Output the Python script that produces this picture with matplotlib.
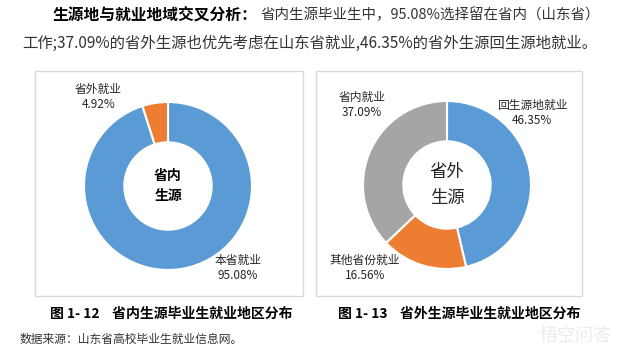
import matplotlib
matplotlib.use("Agg")
import matplotlib.pyplot as plt
from matplotlib.patches import Rectangle

plt.rcParams['font.family'] = ['Noto Sans CJK SC', 'DejaVu Sans']

W, H = 622, 355

# data
left_labels = ["本省就业", "省外就业"]
left_values = [95.08, 4.92]
left_colors = ["#5b9bd5", "#ed7d31"]
right_labels = ["回生源地就业", "其他省份就业", "省内就业"]
right_values = [46.35, 16.56, 37.09]
right_colors = ["#5b9bd5", "#ed7d31", "#a5a5a5"]

title_bold = "生源地与就业地域交叉分析："
title_rest = "省内生源毕业生中，95.08%选择留在省内（山东省）"
title_line2 = "工作;37.09%的省外生源也优先考虑在山东省就业,46.35%的省外生源回生源地就业。"
captions = ["图 1- 12    省内生源毕业生就业地区分布", "图 1- 13    省外生源毕业生就业地区分布"]
source = "数据来源：山东省高校毕业生就业信息网。"


def fx(x):
    return x / W


def fy(y):
    return 1 - y / H


fig = plt.figure(figsize=(W / 100, H / 100), dpi=100)
renderer = fig.canvas.get_renderer()


def fit_text(x0, x1, y, s, size, **kw):
    # shrink the font so the line spans x0..x1 pixels
    t = fig.text(fx(x0), fy(y), s, fontsize=size, ha="left", va="center", **kw)
    w = t.get_window_extent(renderer).width
    t.set_fontsize(size * (x1 - x0) / w)
    return t


# panel frames
for x0, x1 in [(35, 303), (316, 582)]:
    fig.patches.append(Rectangle((fx(x0), fy(296)), fx(x1) - fx(x0), fy(71) - fy(296),
                                 transform=fig.transFigure, fill=False,
                                 edgecolor="#d9d9d9", lw=1.0))


def donut(cx, cy, r, values, colors, labels, label_pos, center, center_kw):
    ax = fig.add_axes([fx(cx - r), fy(cy + r), 2 * r / W, 2 * r / H])
    ax.pie(values, colors=colors, startangle=90, counterclock=False, radius=1,
           wedgeprops=dict(width=0.48, edgecolor="white", linewidth=1.5))
    ax.set_xlim(-1, 1)
    ax.set_ylim(-1, 1)
    ax.set_aspect("equal")
    ax.axis("off")
    for lab, v, (tx, ty) in zip(labels, values, label_pos):
        ax.text(tx, ty, f"{lab}\n{v:.2f}%", ha="center", va="center",
                fontsize=8.5, color="#262626", linespacing=1.2, clip_on=False)
    ax.text(0, 0, center, ha="center", va="center", linespacing=1.5, **center_kw)


donut(168, 186, 84, left_values, left_colors, left_labels,
      [(0.83, -0.98), (-0.83, 1.06)], "省内\n生源",
      dict(fontsize=10, fontweight="bold", color="black"))
donut(447, 185, 84, right_values, right_colors, right_labels,
      [(1.01, 0.86), (-0.98, -0.99), (-1.01, 0.95)], "省外\n生源",
      dict(fontsize=12.5, color="#262626"))

# header text
fit_text(52, 258, 15, title_bold, 11.5, fontweight="bold", color="black")
fit_text(260, 600, 15, title_rest, 11.5, color="#333333")
fit_text(22, 600, 43, title_line2, 11.5, color="#333333")

# captions
fig.text(fx(50), fy(314), captions[0], fontsize=10, fontweight="bold", ha="left", va="center")
fig.text(fx(338), fy(314), captions[1], fontsize=10, fontweight="bold", ha="left", va="center")
fig.text(fx(20), fy(339), source, fontsize=8.5, ha="left", va="center", color="#333333")
fig.text(fx(612), fy(336), "悟空问答", fontsize=13, ha="right", va="center", color="#ebebeb")

fig.savefig("out.png", dpi=100)
plt.close(fig)
